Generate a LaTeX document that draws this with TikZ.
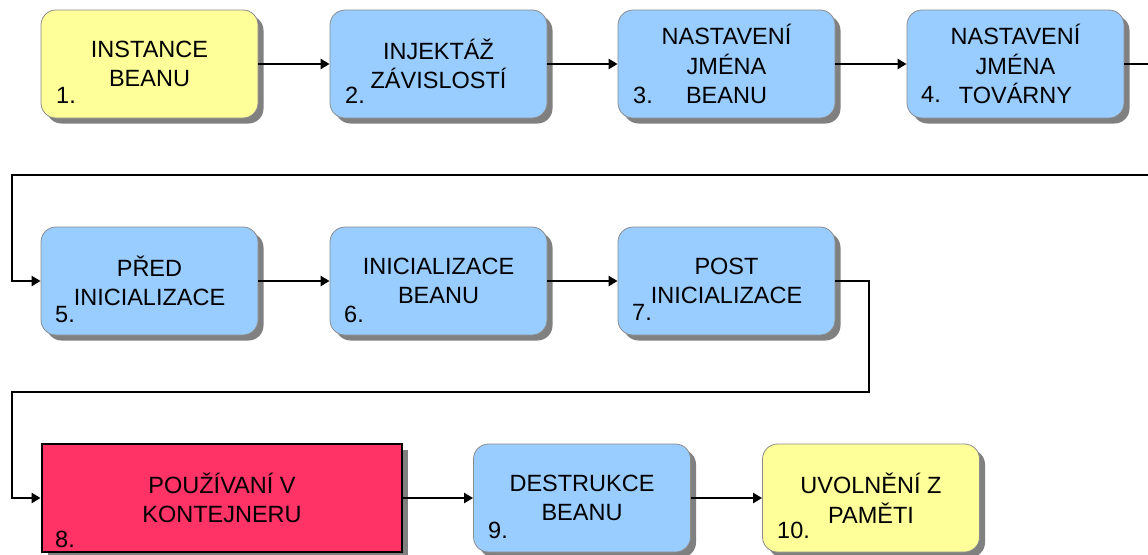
\documentclass[tikz,border=0pt]{standalone}
\usepackage{fontspec}
\setmainfont{Liberation Sans}
\usetikzlibrary{arrows.meta,shadows}
\definecolor{boxyellow}{HTML}{FFFF99}
\definecolor{boxblue}{HTML}{99CCFF}
\definecolor{boxred}{HTML}{FF3366}
\begin{document}
\begin{tikzpicture}[x=1pt,y=-1pt,
  phase/.style={rectangle, rounded corners=15pt, draw=black!45, line width=0.8pt,
    minimum width=217pt, minimum height=108pt, inner sep=0pt, align=center,
    font=\fontsize{23.5}{29.5}\selectfont,
    drop shadow={shadow xshift=5.5pt, shadow yshift=-5.5pt, fill=black!50, opacity=1}},
  yellowphase/.style={phase, fill=boxyellow},
  bluephase/.style={phase, fill=boxblue},
  usephase/.style={rectangle, draw=black, line width=2.8pt, fill=boxred,
    minimum width=360pt, minimum height=108pt, inner sep=0pt, align=center,
    font=\fontsize{23.5}{29.5}\selectfont,
    drop shadow={shadow xshift=5.5pt, shadow yshift=-5.5pt, fill=black!50, opacity=1}},
  num/.style={anchor=base west, inner sep=0pt, font=\fontsize{23.5}{29.5}\selectfont},
  flow/.style={line width=2.6pt, -{Triangle[length=9pt,width=10pt]}}]
\useasboundingbox (0,0) rectangle (1148,554);
\clip (0,0) rectangle (1148,554);

% first row
\node[yellowphase] (b1) at (149.5,64) {INSTANCE\\BEANU};
\node[bluephase]   (b2) at (438.5,64) {INJEKTÁŽ\\ZÁVISLOSTÍ};
\node[bluephase]   (b3) at (726.5,64) {NASTAVENÍ\\JMÉNA\\BEANU};
\node[bluephase]   (b4) at (1015.5,64) {NASTAVENÍ\\JMÉNA\\TOVÁRNY};

% second row
\node[bluephase] (b5) at (149.5,281) {PŘED\\INICIALIZACE};
\node[bluephase] (b6) at (438.5,281) {INICIALIZACE\\BEANU};
\node[bluephase] (b7) at (726.5,281) {POST\\INICIALIZACE};

% third row
\node[usephase]    (b8)  at (222,498) {POUŽÍVANÍ V\\KONTEJNERU};
\node[bluephase]   (b9)  at (582,498) {DESTRUKCE\\BEANU};
\node[yellowphase] (b10) at (871,498) {UVOLNĚNÍ Z\\PAMĚTI};

% step numbers
\node[num] (n1)  at (56,103)  {1.};
\node[num] (n2)  at (345,103) {2.};
\node[num] (n3)  at (633,103) {3.};
\node[num] (n4)  at (921,102) {4.};
\node[num] (n5)  at (55,322)  {5.};
\node[num] (n6)  at (344,322) {6.};
\node[num] (n7)  at (632,320) {7.};
\node[num] (n8)  at (55,547)  {8.};
\node[num] (n9)  at (488,538) {9.};
\node[num] (n10) at (777,538) {10.};

% wrap-around corner points
\coordinate (r1) at (1152,175);
\coordinate (l1) at (12,175);
\coordinate (r2) at (869,392);
\coordinate (l2) at (12,392);

% connectors
\draw[flow] (b1.east) -- (b2.west);
\draw[flow] (b2.east) -- (b3.west);
\draw[flow] (b3.east) -- (b4.west);
\draw[flow] (b4.east) -| (r1) -- (l1) |- (b5.west);
\draw[flow] (b5.east) -- (b6.west);
\draw[flow] (b6.east) -- (b7.west);
\draw[flow] (b7.east) -| (r2) -- (l2) |- (b8.west);
\draw[flow] (b8.east) -- (b9.west);
\draw[flow] (b9.east) -- (b10.west);
\end{tikzpicture}
\end{document}
